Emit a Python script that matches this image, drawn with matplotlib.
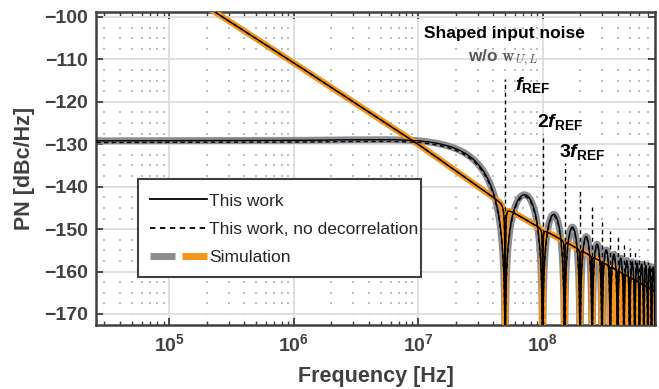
import numpy as np
import matplotlib
matplotlib.use('Agg')
import matplotlib.pyplot as plt
from matplotlib.lines import Line2D
from matplotlib.patches import Rectangle
from matplotlib.legend_handler import HandlerTuple
from matplotlib.ticker import FixedLocator, FuncFormatter, NullFormatter

plt.rcParams['font.family'] = ['Liberation Sans', 'DejaVu Sans']
plt.rcParams['font.weight'] = 'bold'
plt.rcParams['axes.labelweight'] = 'bold'
plt.rcParams['mathtext.fontset'] = 'custom'
plt.rcParams['mathtext.rm'] = 'Liberation Sans:bold'
plt.rcParams['mathtext.it'] = 'Liberation Sans:italic:bold'
plt.rcParams['mathtext.bf'] = 'Liberation Sans:bold'

# ---- values ----
f_ref = 50e6
f_lim = [2.6e4, 8e8]
pn_lim = [-172.6, -98.75]

# level of "this work" before the sinc hold shaping
flat_f = [2.6e4, 1e6, 3e6, 1e7, 5e7, 3e8, 4.5e8, 8e8]
flat_pn = [-129.2, -129.1, -128.9, -128.6, -128.6, -128.8, -128.2, -125.0]
no_decorr_offset = -0.4

# shaped input noise (w/o w_U,L)
shaped_f = [1.5e5, 2.3e5, 1e6, 1e7, 4.6e7, 5.4e7, 9.4e7, 8e8]
shaped_pn = [-95.2, -98.75, -110.8, -130.0, -143.7, -145.5, -149.6, -164.6]

# spurs of the "no decorrelation" curve at n*f_ref
spur_n = list(range(1, 16))
spur_pn = [-114.6, -127.5, -134.4, -140.5, -144.7, -147.8, -150.5, -151.9,
           -153.4, -154.4, -155.4, -156.3, -157.1, -157.8, -158.5]

yticks = [-170, -160, -150, -140, -130, -120, -110, -100]
xticks = [1e5, 1e6, 1e7, 1e8]

c_gray = '#8a8d91'
c_orange = '#f7941d'
c_axis = '#404040'

# ---- curves ----
harm = f_ref * np.array(spur_n)
f = np.logspace(np.log10(f_lim[0]), np.log10(f_lim[1]), 9000)
f = np.sort(np.concatenate([f, harm]))
lf = np.log10(f)
x = f / f_ref

gray = np.interp(lf, np.log10(flat_f), flat_pn) + 20 * np.log10(np.maximum(np.abs(np.sinc(x)), 1e-12))

s2 = np.sin(np.pi * x) ** 2
notch = np.where(x > 0.5, s2 / (s2 + 0.004), 1.0)
orange = np.interp(lf, np.log10(shaped_f), shaped_pn) + 10 * np.log10(np.maximum(notch, 1e-30))
m = f >= shaped_f[0]

fig = plt.figure(figsize=(6.59, 3.89), dpi=100)
ax = fig.add_axes([0.1464, 0.1645, 0.8475, 0.8055])

# simulation (thick)
ax.plot(f, gray, color=c_gray, lw=5, zorder=2, solid_joinstyle='round')
ax.plot(f[m], orange[m], color=c_orange, lw=4.5, zorder=3, solid_joinstyle='round')
ax.plot([f_lim[1] * 0.994] * 2, [-164.5, -176], color='#0072BD', lw=1.5, zorder=3)

# theory
dash = (0, (3, 2.5))
ax.plot(f, gray, color='k', lw=1.0, zorder=4)
ax.plot(f, gray + no_decorr_offset, color='k', lw=1.0, ls=dash, zorder=4)
ax.plot(f[m], orange[m], color='k', lw=1.0, zorder=4)
ax.plot(f[m], orange[m], color='k', lw=1.0, ls=dash, zorder=4)
ax.vlines(harm, -180, spur_pn, color='k', lw=1.0, linestyles=dash, zorder=4)

ax.set_xscale('log')
ax.set_xlim(f_lim)
ax.set_ylim(pn_lim)

ax.xaxis.set_major_locator(FixedLocator(xticks))
ax.xaxis.set_major_formatter(FuncFormatter(lambda v, p: r'$10^{%d}$' % round(np.log10(v))))
minor_x = [k * 10.0 ** d for d in range(4, 9) for k in range(2, 10)
           if f_lim[0] <= k * 10.0 ** d <= f_lim[1]]
ax.xaxis.set_minor_locator(FixedLocator(minor_x))
ax.xaxis.set_minor_formatter(NullFormatter())
ax.set_yticks(yticks)

# grid: light major lines, dotted minor grid
ax.set_axisbelow(True)
ax.grid(which='major', color='#dddddd', lw=1.3, ls='-')
dot_x = [k * 10.0 ** d for d in range(4, 9) for k in range(1, 10)
         if f_lim[0] <= k * 10.0 ** d <= f_lim[1]]
dot_y = np.arange(-170, -99, 2.5)
DX, DY = np.meshgrid(dot_x, dot_y)
ax.plot(DX.ravel(), DY.ravel(), 's', ms=1.8, mew=0, color='#bdbdbd', zorder=0.5)

ax.tick_params(which='both', direction='in', top=True, right=True, color=c_axis,
               labelcolor=c_axis, labelsize=14)
ax.tick_params(which='major', length=5, width=1.3, pad=6)
ax.tick_params(which='minor', length=3, width=1.0)
for s in ax.spines.values():
    s.set_color(c_axis)
    s.set_linewidth(1.8)

ax.set_xlabel('Frequency [Hz]', fontsize=15.5, color=c_axis, labelpad=8)
ax.set_ylabel('PN [dBc/Hz]', fontsize=15.5, color=c_axis, labelpad=7)

# annotations
ax.text(4.94e7, -103.8, 'Shaped input noise', fontsize=12.5, ha='center', va='center', color='k')
ax.text(4.8e7, -109.7, r'w/o $\mathbf{w}_{U,L}$', fontsize=12.5, ha='center', va='center',
        color='#595959', math_fontfamily='cm')
ax.text(5.96e7, -116.1, r'$f_{\mathrm{REF}}$', fontsize=14, ha='left', va='center', color='k')
ax.text(9.0e7, -124.8, r'$2f_{\mathrm{REF}}$', fontsize=14, ha='left', va='center', color='k')
ax.text(1.35e8, -131.9, r'$3f_{\mathrm{REF}}$', fontsize=14, ha='left', va='center', color='k')

# legend: own frame (text sits close to the right edge in the original)
frame = Rectangle((0.0743, 0.1532), 0.5067, 0.3128, transform=ax.transAxes,
                  facecolor='white', edgecolor=c_axis, lw=1.5, zorder=4.9)
ax.add_patch(frame)
h_solid = Line2D([], [], color='k', lw=1.3)
h_dash = Line2D([], [], color='k', lw=1.3, ls=dash)
h_sim = (Line2D([], [], color=c_gray, lw=5, solid_capstyle='butt'),
         Line2D([], [], color=c_orange, lw=5, solid_capstyle='butt'))
leg = ax.legend([h_solid, h_dash, h_sim],
                ['This work', 'This work, no decorrelation', 'Simulation'],
                handler_map={tuple: HandlerTuple(ndivide=None, pad=0.4)},
                loc='lower left', bbox_to_anchor=(0.0743, 0.153),
                prop={'size': 12.5, 'weight': 'normal'},
                handlelength=3.3, handletextpad=0.1, borderpad=0.7,
                labelspacing=0.75, borderaxespad=0, frameon=False)
leg.set_zorder(5)
for t in leg.get_texts():
    t.set_color('#262626')

fig.savefig('out.png', dpi=100)
